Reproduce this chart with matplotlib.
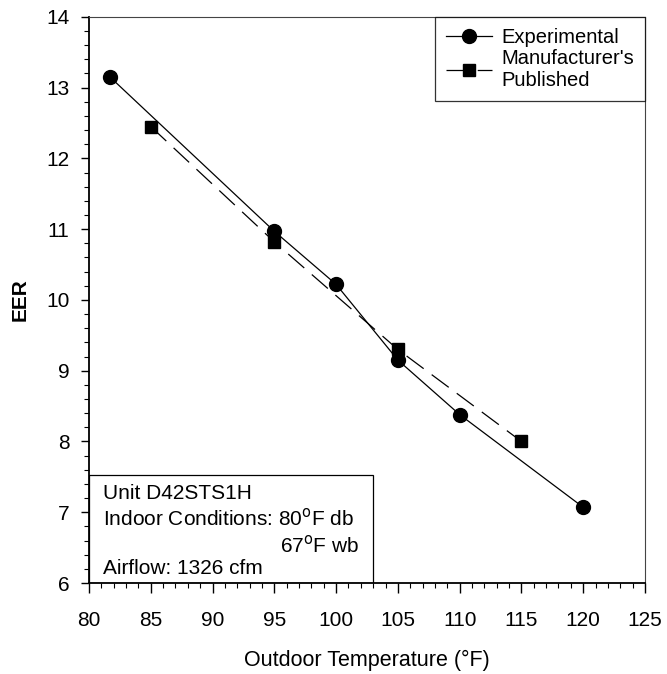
import numpy as np
import matplotlib.pyplot as plt
from matplotlib.ticker import MultipleLocator
from matplotlib.patches import Rectangle

plt.rcParams['font.family'] = ['Liberation Sans', 'DejaVu Sans']

# EER vs outdoor temperature
exp_temp = [81.7, 95, 100, 105, 110, 120]
exp_eer = [13.15, 10.97, 10.22, 9.15, 8.38, 7.07]
mfr_temp = [85, 95, 105, 115]
mfr_eer = [12.45, 10.82, 9.30, 8.00]

x_ticks = [80, 85, 90, 95, 100, 105, 110, 115, 120, 125]
y_ticks = [6, 7, 8, 9, 10, 11, 12, 13, 14]

fig = plt.figure(figsize=(6.67, 6.74), dpi=100)
ax = fig.add_axes([0.1334, 0.135, 0.8336, 0.840])

ax.plot(exp_temp, exp_eer, color='black', lw=0.9, marker='o', ms=10,
        label='Experimental')
ax.plot(mfr_temp, mfr_eer, color='black', lw=0.9, ls=(0, (17, 8)), marker='s',
        ms=9, label="Manufacturer's\nPublished")

ax.set_xlim(80, 125)
ax.set_ylim(6, 14)
ax.set_xticks(x_ticks)
ax.set_yticks(y_ticks)
ax.xaxis.set_minor_locator(MultipleLocator(1))
ax.yaxis.set_minor_locator(MultipleLocator(0.2))
ax.tick_params(which='major', direction='out', width=1, labelsize=15)
ax.tick_params(axis='x', which='major', length=7, pad=13.5)
ax.tick_params(axis='y', which='major', length=6, pad=8)
ax.tick_params(which='minor', direction='out', length=3.5, width=0.8)

for side in ['top', 'right']:
    ax.spines[side].set_linewidth(0.8)
    ax.spines[side].set_color('#444444')
ax.spines['left'].set_linewidth(1.3)
ax.spines['bottom'].set_linewidth(1.3)

ax.set_xlabel('Outdoor Temperature (\u00b0F)', fontsize=15.5, labelpad=14)
ax.set_ylabel('EER', fontsize=15, fontweight='bold', labelpad=12)

leg = ax.legend(loc='upper right', fontsize=14.5, handlelength=2.3,
                borderaxespad=0, frameon=True, fancybox=False,
                handletextpad=0.45, labelspacing=0.1, borderpad=0.55,
                bbox_to_anchor=(1.0, 1.0))
leg.get_frame().set_edgecolor('black')
leg.get_frame().set_linewidth(0.9)

# info box in the lower left corner
ax.add_patch(Rectangle((80, 6), 23.0, 1.53, fill=False, ec='black', lw=0.9,
                       zorder=3))
ax.text(81.1, 7.27, 'Unit D42STS1H', fontsize=15, va='center')
ax.text(81.1, 6.91, 'Indoor Conditions: 80$^{\\mathrm{o}}$F db', fontsize=15,
        va='center')
ax.text(101.9, 6.53, '67$^{\\mathrm{o}}$F wb', fontsize=15, va='center',
        ha='right')
ax.text(81.1, 6.20, 'Airflow: 1326 cfm', fontsize=15, va='center')

fig.savefig('out.png', dpi=100)
